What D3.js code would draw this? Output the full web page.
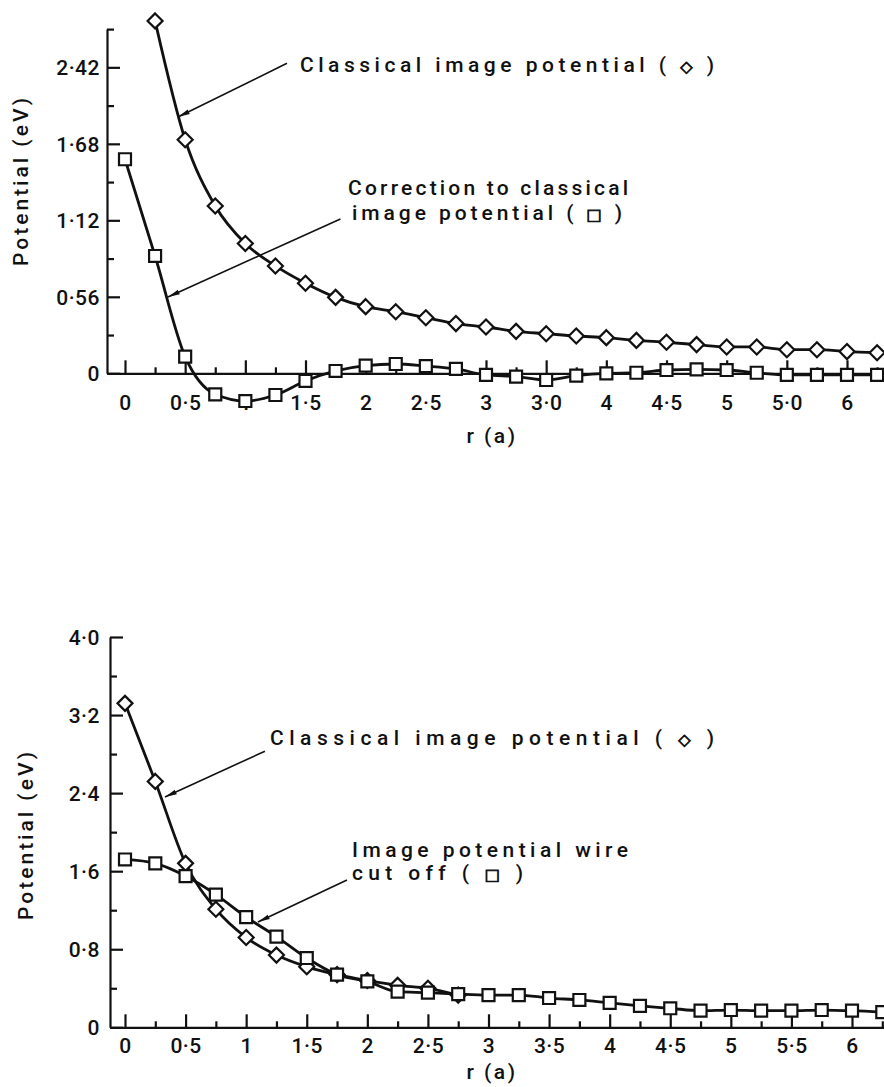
<!DOCTYPE html>
<html>
<head>
<meta charset="utf-8">
<script src="https://cdn.jsdelivr.net/npm/d3@7"></script>
<style>
html, body { margin: 0; padding: 0; background: #fff; }
svg { display: block; }
text { font-family: Roboto, "DejaVu Sans", sans-serif; font-weight: 500; fill: #111; }
tspan.sym { font-family: "DejaVu Sans"; font-weight: normal; fill: #111; stroke: #111; stroke-width: 0.8px; }
</style>
</head>
<body>
<svg id="fig" width="884" height="1087"></svg>
<script>
(function() {

// ---- data (r in units of a, potential in eV) ----
var topClassicalR = [0.25, 0.5, 0.75, 1, 1.25, 1.5, 1.75, 2, 2.25, 2.5, 2.75, 3, 3.25,
                     3.5, 3.75, 4, 4.25, 4.5, 4.75, 5, 5.25, 5.5, 5.75, 6, 6.25];
var topClassicalV = [2.58, 1.71, 1.225, 0.95, 0.786, 0.659, 0.556, 0.488, 0.451, 0.407, 0.364, 0.339, 0.307,
                     0.29, 0.273, 0.261, 0.241, 0.227, 0.21, 0.193, 0.193, 0.173, 0.173, 0.159, 0.151];

var topCorrR = [0, 0.25, 0.5, 0.75, 1, 1.25, 1.5, 1.75, 2, 2.25, 2.5, 2.75, 3, 3.25,
                3.5, 3.75, 4, 4.25, 4.5, 4.75, 5, 5.25, 5.5, 5.75, 6, 6.25];
var topCorrV = [1.567, 0.859, 0.122, -0.154, -0.203, -0.159, -0.056, 0.017, 0.056, 0.068, 0.053, 0.032, -0.012, -0.024,
                -0.049, -0.017, 0.0, 0.004, 0.024, 0.029, 0.024, 0.004, -0.012, -0.012, -0.012, -0.012];

var botClassicalR = [0, 0.25, 0.5, 0.75, 1, 1.25, 1.5, 1.75, 2, 2.25, 2.5, 2.75];
var botClassicalV = [3.32, 2.52, 1.68, 1.21, 0.92, 0.74, 0.62, 0.54, 0.48, 0.43, 0.40, 0.33];

var botWireR = [0, 0.25, 0.5, 0.75, 1, 1.25, 1.5, 1.75, 2, 2.25, 2.5, 2.75, 3, 3.25,
                3.5, 3.75, 4, 4.25, 4.5, 4.75, 5, 5.25, 5.5, 5.75, 6, 6.25];
var botWireV = [1.72, 1.68, 1.55, 1.36, 1.13, 0.93, 0.71, 0.54, 0.47, 0.365, 0.355, 0.34, 0.33, 0.33,
                0.30, 0.28, 0.25, 0.22, 0.195, 0.17, 0.177, 0.17, 0.17, 0.177, 0.17, 0.155];

// ---- ticks ----
var xMajor = [0, 0.5, 1, 1.5, 2, 2.5, 3, 3.5, 4, 4.5, 5, 5.5, 6];
var xMinor = [0.25, 0.75, 1.25, 1.75, 2.25, 2.75, 3.25, 3.75, 4.25, 4.75, 5.25, 5.75, 6.25];
var topXLabels = ['0', '0·5', '1', '1·5', '2', '2·5', '3', '3·0', '4', '4·5', '5', '5·0', '6'];
var botXLabels = ['0', '0·5', '1', '1·5', '2', '2·5', '3', '3·5', '4', '4·5', '5', '5·5', '6'];

var topYMajor = [0, 0.56, 1.12, 1.68, 2.24];
var topYMinor = [0.28, 0.84, 1.40, 1.96, 2.52];
var topYLabels = ['0', '0·56', '1·12', '1·68', '2·42'];

var botYMajor = [0, 0.8, 1.6, 2.4, 3.2, 4.0];
var botYMinor = [0.4, 1.2, 2.0, 2.8, 3.6];
var botYLabels = ['0', '0·8', '1·6', '2·4', '3·2', '4·0'];

var svg = d3.select('#fig');

var diamond = d3.symbol().type(d3.symbolDiamond2).size(143),
    square = d3.symbol().type(d3.symbolSquare2).size(183);

svg.append('defs').append('marker')
    .attr('id', 'arrow')
    .attr('viewBox', '0 0 12 6')
    .attr('refX', 12).attr('refY', 3)
    .attr('markerWidth', 12).attr('markerHeight', 6)
    .attr('markerUnits', 'userSpaceOnUse')
    .attr('orient', 'auto')
  .append('path')
    .attr('d', 'M0,0.6L12,3L0,5.4Z')
    .attr('fill', '#111');

function panel(p) {
  var g = svg.append('g');
  var x = d3.scaleLinear().domain([0, 6]).range(p.xRange),
      y = d3.scaleLinear().domain(p.yDomain).range(p.yRange),
      xFull = x.copy().domain([x.invert(p.left), x.invert(884)]).range([p.left, 884]);

  // x axis: minor then major ticks pointing inward
  var gx = g.append('g').attr('transform', 'translate(0,' + y(0) + ')');
  gx.append('g')
    .call(d3.axisBottom(xFull).tickValues(xMinor).tickSize(-6).tickSizeOuter(0).tickFormat(''));
  gx.append('g')
    .call(d3.axisBottom(xFull).tickValues(xMajor).tickSize(-13).tickSizeOuter(0)
      .tickFormat(function(d, i) { return p.xLabels[i]; }))
    .call(function(s) { s.select('.domain').remove(); });
  gx.selectAll('text')
    .attr('y', p.xLabelY).attr('dy', 0)
    .style('font-size', '21px').style('letter-spacing', '0.5px');

  // y axis
  var gy = g.append('g').attr('transform', 'translate(' + p.left + ',0)');
  gy.append('g')
    .call(d3.axisLeft(y).tickValues(p.yMinor).tickSize(-7).tickSizeOuter(0).tickFormat(''));
  gy.append('g')
    .call(d3.axisLeft(y).tickValues(p.yMajor).tickSize(-13).tickSizeOuter(0)
      .tickFormat(function(d, i) { return p.yLabels[i]; }))
    .call(function(s) { s.select('.domain').remove(); });
  gy.selectAll('text')
    .attr('x', p.yLabelX).attr('dy', '0.36em')
    .style('font-size', '21px').style('letter-spacing', '0.5px');

  g.selectAll('.domain, .tick line')
    .attr('stroke', '#111').attr('stroke-width', 2.2);

  // axis titles
  g.append('text')
    .attr('x', 492).attr('y', p.xTitleY)
    .attr('text-anchor', 'middle')
    .style('font-size', '21px').style('letter-spacing', '2.5px')
    .text('r (a)');
  g.append('text')
    .attr('transform', 'translate(' + p.yTitle[0] + ',' + p.yTitle[1] + ') rotate(-90)')
    .attr('text-anchor', 'middle')
    .attr('textLength', 168).attr('lengthAdjust', 'spacing')
    .style('font-size', '21px')
    .text('Potential (eV)');

  // series
  var line = d3.line()
    .x(function(d) { return x(d[0]); })
    .y(function(d) { return y(d[1]); })
    .curve(d3.curveMonotoneX);

  p.series.forEach(function(s) {
    var pts = d3.zip(s.r, s.v);
    g.append('path')
      .datum(pts)
      .attr('d', line)
      .attr('fill', 'none')
      .attr('stroke', '#111')
      .attr('stroke-width', 2.8);
    g.selectAll(null)
      .data(pts)
      .enter().append('path')
      .attr('transform', function(d) { return 'translate(' + x(d[0]) + ',' + y(d[1]) + ')'; })
      .attr('d', s.sym)
      .attr('fill', '#fff')
      .attr('stroke', '#111')
      .attr('stroke-width', 2.2);
  });

  // annotations
  p.notes.forEach(function(n) {
    g.append('line')
      .attr('x1', x(n.from[0])).attr('y1', y(n.from[1]))
      .attr('x2', x(n.to[0])).attr('y2', y(n.to[1]))
      .attr('stroke', '#111').attr('stroke-width', 1.6)
      .attr('marker-end', 'url(#arrow)');
    n.lines.forEach(function(l) {
      var t = g.append('text')
        .attr('x', l.x).attr('y', l.y)
        .attr('textLength', l.w).attr('lengthAdjust', 'spacing')
        .style('font-size', '21px');
      t.append('tspan').text(l.t);
      if (l.sym) {
        t.append('tspan').attr('class', 'sym').style('font-size', '16px').text(' ' + l.sym + ' ');
        t.append('tspan').text(')');
      }
    });
  });
}

panel({
  left: 107,
  xRange: [125, 847],
  yDomain: [0, 2.52],
  yRange: [373.3, 29.1],
  xLabels: topXLabels, xLabelY: 37,
  yMajor: topYMajor, yMinor: topYMinor, yLabels: topYLabels, yLabelX: -7,
  xTitleY: 443,
  yTitle: [28, 182],
  series: [
    { r: topClassicalR, v: topClassicalV, sym: diamond },
    { r: topCorrR, v: topCorrV, sym: square }
  ],
  notes: [
    { from: [1.346, 2.27], to: [0.44, 1.876],
      lines: [{ x: 300, y: 72, w: 414, t: 'Classical  image  potential  (', sym: '◇' }] },
    { from: [1.79, 1.13], to: [0.357, 0.559],
      lines: [{ x: 348, y: 195, w: 280, t: 'Correction  to  classical' },
              { x: 352, y: 220, w: 270, t: 'image  potential  (', sym: '□' }] }
  ]
});

panel({
  left: 110,
  xRange: [125, 852],
  yDomain: [0, 4.0],
  yRange: [1027.3, 637],
  xLabels: botXLabels, xLabelY: 26,
  yMajor: botYMajor, yMinor: botYMinor, yLabels: botYLabels, yLabelX: -10,
  xTitleY: 1079,
  yTitle: [33, 836],
  series: [
    { r: botClassicalR, v: botClassicalV, sym: diamond },
    { r: botWireR, v: botWireV, sym: square }
  ],
  notes: [
    { from: [1.155, 2.83], to: [0.33, 2.36],
      lines: [{ x: 270, y: 745, w: 444, t: 'Classical   image  potential  (', sym: '◇' }] },
    { from: [1.832, 1.51], to: [1.097, 1.08],
      lines: [{ x: 352, y: 857, w: 276, t: 'Image  potential  wire' },
              { x: 352, y: 880, w: 171, t: 'cut  off  (', sym: '□' }] }
  ]
});

})();
</script>
</body>
</html>
